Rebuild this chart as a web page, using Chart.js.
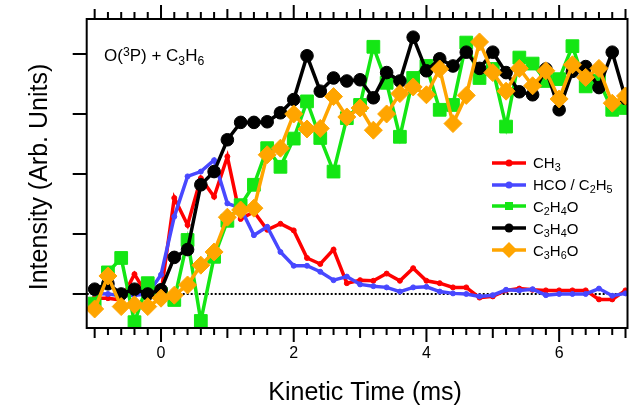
<!DOCTYPE html>
<html>
<head>
<meta charset="utf-8">
<script src="https://cdn.jsdelivr.net/npm/chart.js@4.4.1/dist/chart.umd.min.js"></script>
<style>
html, body { margin: 0; padding: 0; background: #fff; }
#wrap { position: relative; width: 632px; height: 408px; font-family: "Liberation Sans", Arial, sans-serif; color: #000; }
canvas { display: block; }
.note { position: absolute; left: 104px; top: 46px; font-size: 17px; line-height: 20px; white-space: nowrap; }
.legend { position: absolute; left: 492px; top: 152px; font-size: 15px; }
.legend div { height: 21.8px; display: flex; align-items: center; white-space: nowrap; }
.legend svg { margin-right: 7px; }
sub { font-size: 0.72em; vertical-align: -0.3em; line-height: 0; }
sup { font-size: 0.72em; vertical-align: 0.45em; line-height: 0; }
</style>
</head>
<body>
<div id="wrap">
  <canvas id="kinChart" width="632" height="408"></canvas>
  <div class="note">O(<sup>3</sup>P) + C<sub>3</sub>H<sub>6</sub></div>
  <div class="legend" id="legend"></div>
</div>
<script>
// tiempos (ms) y señales
const tiempos = [-1.0, -0.8, -0.6, -0.4, -0.2, 0.0, 0.2, 0.4, 0.6, 0.8,
                 1.0, 1.2, 1.4, 1.6, 1.8, 2.0, 2.2, 2.4, 2.6, 2.8,
                 3.0, 3.2, 3.4, 3.6, 3.8, 4.0, 4.2, 4.4, 4.6, 4.8,
                 5.0, 5.2, 5.4, 5.6, 5.8, 6.0, 6.2, 6.4, 6.6, 6.8, 7.0];

const ch3 = [-0.07, -0.07, -0.10, 0.33, -0.04, 0.01, 1.60, 1.15, 1.93, 1.62,
             2.29, 1.25, 1.37, 1.07, 1.17, 1.06, 0.60, 0.50, 0.74, 0.18,
             0.23, 0.22, 0.34, 0.22, 0.43, 0.22, 0.18, 0.11, 0.11, -0.06,
             -0.04, 0.06, 0.09, 0.07, 0.06, 0.06, 0.06, 0.06, -0.09, -0.09, 0.06];

const hco = [0.01, 0.00, -0.03, -0.02, 0.00, 0.32, 1.29, 1.96, 2.04, 2.23,
             1.51, 1.43, 0.98, 1.12, 0.70, 0.47, 0.47, 0.37, 0.23, 0.29,
             0.16, 0.13, 0.11, 0.04, 0.11, 0.12, 0.04, 0.01, 0.00, -0.04,
             -0.02, 0.07, 0.06, 0.08, -0.02, 0.00, 0.00, 0.00, 0.09, -0.03, 0.01];

const c2h4o = [-0.16, 0.36, 0.60, -0.47, 0.18, 0.00, -0.10, 0.90, -0.45, 0.62,
               1.22, 1.48, 1.82, 2.43, 2.12, 2.59, 3.21, 2.60, 2.04, 2.93,
               3.15, 4.12, 3.52, 2.62, 3.60, 3.80, 3.07, 3.15, 4.19, 3.60,
               3.75, 2.79, 3.94, 3.84, 3.55, 3.58, 4.13, 3.46, 3.55, 3.07, 3.10];

const c3h4o = [0.08, 0.17, 0.00, 0.08, 0.00, 0.07, 0.61, 0.74, 1.82, 2.04,
               2.57, 2.86, 2.86, 2.87, 3.02, 3.24, 3.97, 3.38, 3.60, 3.55,
               3.57, 3.27, 3.69, 3.55, 4.28, 3.72, 3.92, 3.80, 4.03, 3.76,
               4.03, 3.69, 3.37, 3.32, 3.75, 3.07, 3.71, 3.79, 3.44, 4.03, 3.26];

const c3h6o = [-0.25, 0.30, -0.21, -0.18, -0.21, -0.07, -0.02, 0.15, 0.48, 0.70,
               1.28, 1.40, 1.43, 2.32, 2.43, 3.00, 2.75, 2.76, 3.29, 2.95,
               3.10, 2.73, 3.00, 3.34, 3.45, 3.32, 3.75, 2.84, 3.31, 4.20,
               3.69, 3.38, 3.76, 3.47, 3.72, 3.25, 3.82, 3.61, 3.76, 3.18, 3.30];

const etiquetasX = [0, 2, 4, 6];
const marcasY = [0, 1, 2, 3, 4];
const tituloX = 'Kinetic Time (ms)';
const tituloY = 'Intensity (Arb. Units)';

const series = [
    { label: 'CH<sub>3</sub>', data: ch3, color: '#ff0000', style: 'circle', radius: 2.5, order: 5 },
    { label: 'HCO / C<sub>2</sub>H<sub>5</sub>', data: hco, color: '#4848ff', style: 'circle', radius: 2.5, order: 4 },
    { label: 'C<sub>2</sub>H<sub>4</sub>O', data: c2h4o, color: '#14e614', style: 'rect', radius: 9, order: 3 },
    { label: 'C<sub>3</sub>H<sub>4</sub>O', data: c3h4o, color: '#000000', style: 'circle', radius: 6.3, order: 2 },
    { label: 'C<sub>3</sub>H<sub>6</sub>O', data: c3h6o, color: '#ffa500', style: 'rectRot', radius: 9, order: 1 }
];

// marco, marcas de ejes, títulos y linea punteada en cero
const marcoEjes = {
    id: 'marcoEjes',
    beforeDatasetsDraw(chart) {
        const { ctx, chartArea: a, scales: { y } } = chart;
        const y0 = y.getPixelForValue(0);
        ctx.save();
        ctx.strokeStyle = '#000';
        ctx.lineWidth = 2;
        ctx.setLineDash([2, 2]);
        ctx.beginPath();
        ctx.moveTo(a.left, y0);
        ctx.lineTo(a.right, y0);
        ctx.stroke();
        ctx.restore();
    },
    afterDraw(chart) {
        const { ctx, chartArea: a, scales: { x, y } } = chart;
        ctx.save();
        ctx.strokeStyle = '#000';
        ctx.lineWidth = 2;
        ctx.strokeRect(a.left, a.top, a.right - a.left, a.bottom - a.top);
        ctx.beginPath();
        x.ticks.forEach(t => {
            const v = Math.round(t.value * 10) / 10;
            if (Math.abs(v * 5 - Math.round(v * 5)) > 1e-6) return;
            const px = x.getPixelForValue(v);
            let len = 7;
            if (Number.isInteger(v)) len = (v % 2 === 0) ? 14 : 10;
            ctx.moveTo(px, a.bottom); ctx.lineTo(px, a.bottom + len);
            ctx.moveTo(px, a.top); ctx.lineTo(px, a.top - len);
        });
        marcasY.forEach(v => {
            const py = y.getPixelForValue(v);
            ctx.moveTo(a.left, py); ctx.lineTo(a.left - 14, py);
        });
        ctx.stroke();

        // títulos de ejes
        ctx.fillStyle = '#000';
        ctx.font = '25px "Liberation Sans", Arial, sans-serif';
        ctx.textAlign = 'center';
        ctx.textBaseline = 'middle';
        ctx.fillText(tituloX, (a.left + a.right) / 2 + 8, 393);
        ctx.translate(40, (a.top + a.bottom) / 2 + 3.5);
        ctx.rotate(-Math.PI / 2);
        ctx.fillText(tituloY, 0, 0);
        ctx.restore();
    }
};

function simbolo(s) {
    let m = '';
    if (s.style === 'circle') m = `<circle cx="17" cy="8" r="${s.radius < 4 ? 3.5 : 4.5}" fill="${s.color}"/>`;
    if (s.style === 'rect') m = `<rect x="13" y="4" width="8" height="8" fill="${s.color}"/>`;
    if (s.style === 'rectRot') m = `<polygon points="17,0 25,8 17,16 9,8" fill="${s.color}"/>`;
    return `<svg width="34" height="16"><line x1="0" y1="8" x2="34" y2="8" stroke="${s.color}" stroke-width="3.5"/>${m}</svg>`;
}

document.getElementById('legend').innerHTML =
    series.map(s => `<div>${simbolo(s)}<span>${s.label}</span></div>`).join('');

Chart.defaults.font.family = '"Liberation Sans", Arial, sans-serif';
Chart.defaults.color = '#000';

new Chart(document.getElementById('kinChart').getContext('2d'), {
    type: 'line',
    data: {
        labels: tiempos,
        datasets: series.map(s => ({
            label: s.label,
            data: s.data.map((v, i) => ({ x: tiempos[i], y: v })),
            borderColor: s.color,
            backgroundColor: s.color,
            borderWidth: 3.5,
            pointStyle: s.style,
            pointRadius: s.radius,
            pointBorderWidth: 1,
            pointBorderColor: s.color,
            pointBackgroundColor: s.color,
            tension: 0,
            order: s.order,
            clip: 0
        }))
    },
    options: {
        responsive: false,
        animation: false,
        events: [],
        layout: { autoPadding: false, padding: { top: 19, right: 4.5, left: 0, bottom: 0 } },
        plugins: { legend: { display: false }, tooltip: { enabled: false } },
        scales: {
            x: {
                type: 'linear',
                min: -1.12,
                max: 7.03,
                border: { display: false },
                grid: { display: false, drawTicks: false },
                ticks: {
                    stepSize: 0.2,
                    autoSkip: false,
                    includeBounds: false,
                    maxRotation: 0,
                    padding: 16,
                    font: { size: 16 },
                    callback: v => etiquetasX.includes(Math.round(v * 10) / 10) ? String(Math.round(v)) : ''
                },
                title: { display: false, text: tituloX },
                afterFit: s => { s.height = 80; s.paddingLeft = 0; s.paddingRight = 0; }
            },
            y: {
                min: -0.567,
                max: 4.583,
                border: { display: false },
                grid: { display: false, drawTicks: false },
                ticks: { display: false, stepSize: 1 },
                title: { display: false, text: tituloY },
                afterFit: s => { s.width = 86.7; }
            }
        }
    },
    plugins: [marcoEjes]
});
</script>
</body>
</html>
